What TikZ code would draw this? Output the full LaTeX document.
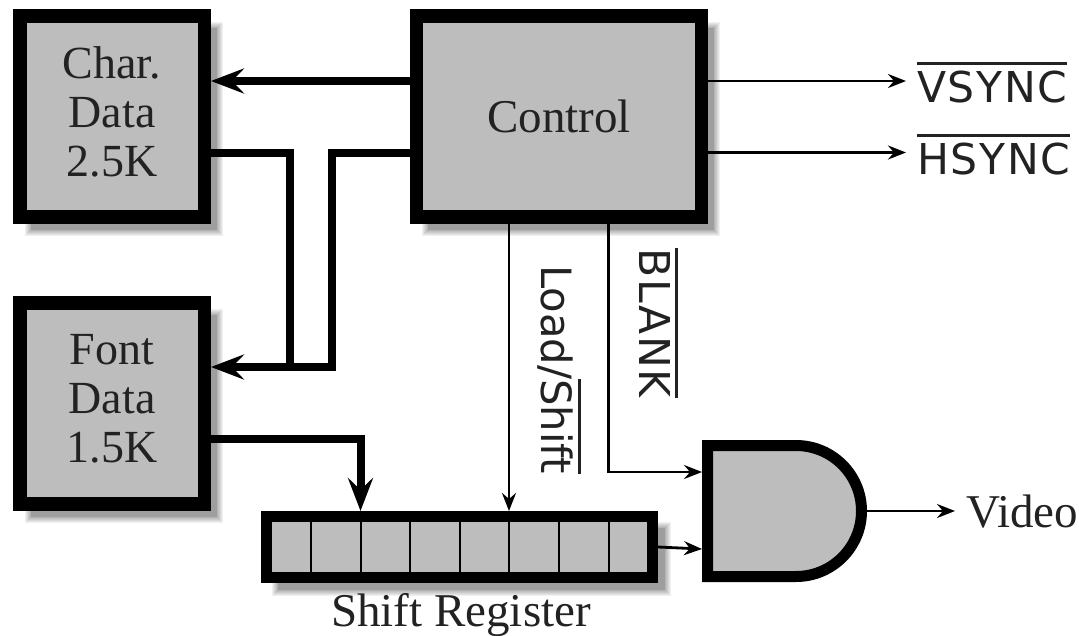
\documentclass[tikz,border=0pt]{standalone}
\usepackage{fontspec}
\setmainfont{Liberation Serif}
\newfontfamily\labelfont{DejaVu Sans}
\newfontfamily\spacedfont[LetterSpace=4]{DejaVu Sans}
\usetikzlibrary{arrows.meta,calc}
\definecolor{boxgrey}{HTML}{BDBDBD}
\definecolor{inkgrey}{HTML}{222222}
\newcommand{\ovl}[1]{\leavevmode\vbox{\hrule height 3pt\kern 5.5pt\hbox{#1}}}
\newcommand{\softshadow}[4]{%
  \foreach \e in {6,5,4,3,2,1}{\fill[black,opacity=.055] (#1-\e,#2-\e) rectangle (#3+\e,#4+\e);}
  \fill[black!38] (#1,#2) rectangle (#3,#4);
}
\tikzset{
  block/.style={draw=black,fill=boxgrey,line width=13.5pt,inner sep=0pt,align=center,
    text=inkgrey,font=\fontsize{46}{49}\selectfont},
  serif label/.style={text=inkgrey,inner sep=0pt,font=\fontsize{47}{49}\selectfont},
  sans label/.style={text=inkgrey,inner sep=0pt,font=\spacedfont\fontsize{42.5}{49}\selectfont},
  load label/.style={text=inkgrey,inner sep=0pt,font=\labelfont\fontsize{41.7}{49}\selectfont},
  bus/.style={line width=8pt,draw=black,miter limit=10},
  busarrow/.style={bus,-{Stealth[length=33pt,width=25pt,inset=12pt]}},
  wire/.style={line width=2.8pt,draw=black},
  wirearrow/.style={wire,-{Stealth[length=18pt,width=14pt,inset=6pt]}},
  cell/.style={line width=2pt,draw=black},
}
\begin{document}
\begin{tikzpicture}[x=1pt,y=-1pt]
\useasboundingbox (0,0) rectangle (1079,635);
% shadows
\softshadow{31}{28}{217}{230}
\softshadow{31}{315}{217}{517}
\softshadow{428}{28}{714}{230}
\softshadow{278}{528}{665}{590}
% blocks
\node[block,minimum width=184.5pt,minimum height=201pt] (char) at (112,116.5) {Char.\\Data\\2.5K\rule[-10pt]{0pt}{10pt}};
\node[block,minimum width=184.5pt,minimum height=201pt] (font) at (112,403.5) {Font\\Data\\1.5K\rule[-10pt]{0pt}{10pt}};
\node[block,minimum width=285pt,minimum height=201pt,font=\fontsize{47}{49}\selectfont] (control) at (559,116.5) {\raisebox{-2pt}{Control}};
\node[block,line width=11pt,minimum width=386pt,minimum height=61pt] (shift) at (459.5,547) {};
\foreach \x in {311,360.5,410,459.5,509,559,608.5}{\draw[cell] (\x,522) -- (\x,572);}
% gate
\draw[fill=boxgrey,line width=11pt,draw=black,miter limit=10] (707.5,445.5) -- (796,445.5)
  arc[start angle=90,end angle=-90,radius=65.5pt] -- (707.5,576.5) -- cycle;
\coordinate (gatein1) at (702,472);
\coordinate (gatein2) at (702,549);
\coordinate (gateout) at (867,511);
% rows and junctions
\coordinate (rowa) at (0,81);
\coordinate (rowb) at (0,152.5);
\coordinate (rowc) at (0,367);
\coordinate (rowd) at (0,439);
\coordinate (cola) at (290,0);
\coordinate (colb) at (331.5,0);
\coordinate (colc) at (360.5,0);
\coordinate (cold) at (509,0);
\coordinate (cole) at (608.5,0);
% labels
\node[sans label,anchor=base west] (vsync) at (917,102) {\ovl{VSYNC}};
\node[sans label,anchor=base west] (hsync) at (917,174) {\ovl{HSYNC}};
\node[sans label,rotate=-90,anchor=base west] (blank) at (639,248) {\ovl{BLANK}};
\node[load label,rotate=-90,anchor=base west] (load) at (541,265) {Load/\ovl{Shift}};
\node[serif label,anchor=base west] (video) at (966,527) {Video};
\node[serif label,anchor=base] (shiftlabel) at (461,626) {Shift Register};
% connectors
\draw[busarrow] (control.west |- rowa) -- (char.east |- rowa);
\draw[bus] (char.east |- rowb) -- (cola |- rowb) -- (cola |- rowc);
\draw[busarrow] (control.west |- rowb) -- (colb |- rowb) -- (colb |- rowc) -- (font.east |- rowc);
\draw[busarrow] (font.east |- rowd) -- (colc |- rowd) -- (colc |- shift.north);
\draw[wirearrow] (control.east |- rowa) -- ($(vsync.base west |- rowa)+(-11,0)$);
\draw[wirearrow] (control.east |- rowb) -- ($(hsync.base west |- rowb)+(-11,0)$);
\draw[wirearrow] (cold |- control.south) -- (cold |- shift.north);
\draw[wirearrow] (cole |- control.south) -- (cole |- gatein1) -- (gatein1);
\draw[wirearrow] (shift.east |- 0,547) -- (gatein2);
\draw[wirearrow] (gateout) -- ($(video.base west |- gateout)+(-11,0)$);
\end{tikzpicture}
\end{document}
